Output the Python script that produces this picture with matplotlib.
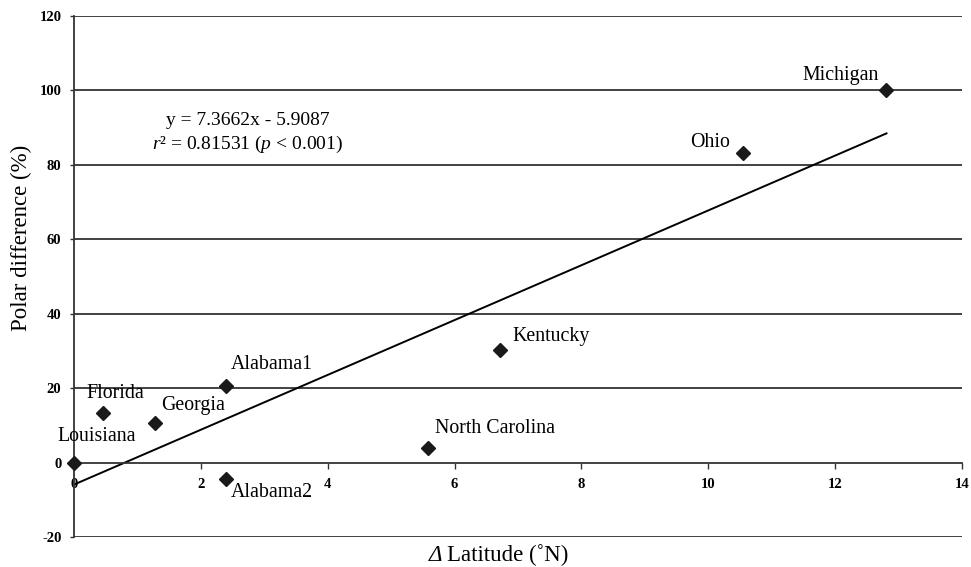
import numpy as np
import matplotlib.pyplot as plt

plt.rcParams['font.family'] = ['Liberation Serif', 'DejaVu Serif']
plt.rcParams['mathtext.fontset'] = 'custom'
plt.rcParams['mathtext.rm'] = 'Liberation Serif'
plt.rcParams['mathtext.it'] = 'Liberation Serif:italic'
plt.rcParams['axes.unicode_minus'] = False

# data
states = ['Louisiana', 'Florida', 'Georgia', 'Alabama1', 'Alabama2',
          'North Carolina', 'Kentucky', 'Ohio', 'Michigan']
lat_diff = [0.0, 0.46, 1.28, 2.40, 2.40, 5.58, 6.72, 10.55, 12.81]
polar_diff = [0.0, 13.4, 10.5, 20.7, -4.3, 4.0, 30.3, 83.2, 100.1]

# regression given in the figure
slope = 7.3662
intercept = -5.9087

# label offsets (pixels) and alignment
offsets = {
    'Louisiana': (-17, 26, 'left'),
    'Florida': (-17, 19, 'left'),
    'Georgia': (6, 18, 'left'),
    'Alabama1': (5, 21, 'left'),
    'Alabama2': (5, -14, 'left'),
    'North Carolina': (7, 19, 'left'),
    'Kentucky': (12, 13, 'left'),
    'Ohio': (-13, 10, 'right'),
    'Michigan': (-8, 15, 'right'),
}

fig = plt.figure(figsize=(9.71, 5.67), dpi=100)
ax = fig.add_axes([0.0762, 0.0529, 0.9145, 0.9189])

ax.set_xlim(0, 14)
ax.set_ylim(-20, 120)

for yv in range(-20, 121, 20):
    if yv != 0:
        ax.axhline(yv, color='#333333', lw=1.3, zorder=1)

xs = np.array([0, max(lat_diff)])
ax.plot(xs, slope * xs + intercept, color='black', lw=1.4, zorder=2)

ax.plot(lat_diff, polar_diff, 'D', color='#1a1a1a', markersize=7.5,
        clip_on=False, zorder=3)

for s, x, y in zip(states, lat_diff, polar_diff):
    dx, dy, ha = offsets[s]
    ax.annotate(s, (x, y), xytext=(dx, dy), textcoords='offset pixels',
                ha=ha, va='center', fontsize=14.3)

ax.text(2.74, 92.0, 'y = 7.3662x - 5.9087', ha='center', va='center', fontsize=14)
ax.text(2.74, 85.4, r'$r$² = 0.81531 ($p$ < 0.001)', ha='center', va='center',
        fontsize=14)

for side in ['top', 'right']:
    ax.spines[side].set_visible(False)
ax.spines['bottom'].set_position(('data', 0))
ax.spines['bottom'].set_color('#333333')
ax.spines['bottom'].set_linewidth(1.3)
ax.spines['left'].set_color('#333333')
ax.spines['left'].set_linewidth(1.3)

ax.set_xticks(range(0, 15, 2))
ax.set_yticks(range(-20, 121, 20))
ax.tick_params(axis='x', direction='out', length=4, width=1, color='#333333',
               labelsize=10.5, pad=7)
ax.tick_params(axis='y', direction='out', length=3, width=1, color='#333333',
               labelsize=10.5, pad=6)
for lab in ax.get_xticklabels() + ax.get_yticklabels():
    lab.set_fontweight('bold')

ax.set_ylabel('Polar difference (%)', fontsize=16.5)
ax.yaxis.set_label_coords(-0.047, 0.574)

# x label: italic delta then plain text
fig.text(0.4552, 0.002, 'Δ', ha='right', va='bottom', fontsize=16.5,
         fontstyle='italic')
fig.text(0.4603, 0.002, 'Latitude (˚N)', ha='left', va='bottom', fontsize=16.5)

fig.savefig('out.png', dpi=100)
